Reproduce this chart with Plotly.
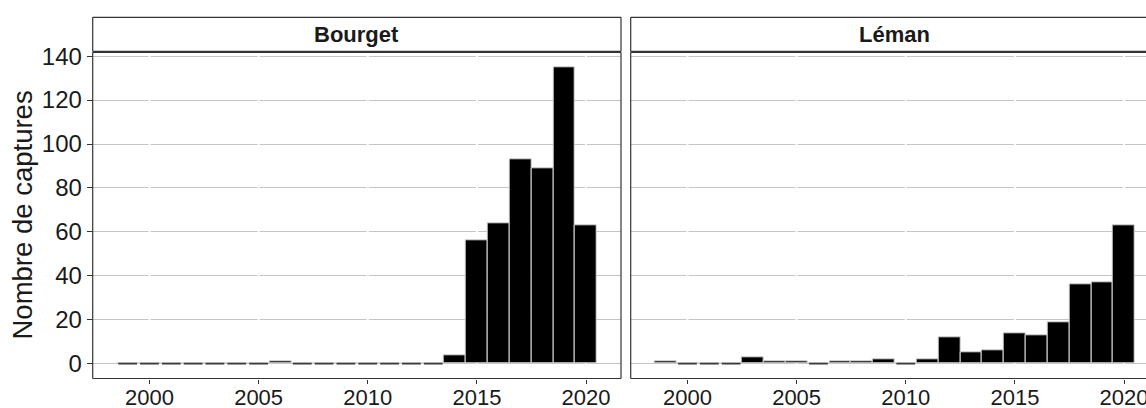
import plotly.graph_objects as go

years = list(range(1999, 2021))
bourget = [0, 0, 0, 0, 0, 0, 0, 1, 0, 0, 0, 0, 0, 0, 0, 4, 56, 64, 93, 89, 135, 63]
leman = [1, 0, 0, 0, 3, 1, 1, 0, 1, 1, 2, 0, 2, 12, 5, 6, 14, 13, 19, 36, 37, 63]
panels = ["Bourget", "Léman"]
x_ticks = [2000, 2005, 2010, 2015, 2020]
y_ticks = [0, 20, 40, 60, 80, 100, 120, 140]
y_title = "Nombre de captures"

W, H = 1146, 408
def px(x):
    return x / W
def py(y):
    return (H - y) / H

FONT = "Liberation Sans, Arial, sans-serif"
BORDER = "#333333"
GRID = "#c4c4c4"

fig = go.Figure()
series = [bourget, leman]
axes = [("x", "y"), ("x2", "y2")]
for vals, (xa, ya) in zip(series, axes):
    fig.add_trace(go.Bar(x=years, y=vals, width=1.0, xaxis=xa, yaxis=ya,
                         marker=dict(color="black", line=dict(color="#d8d8d8", width=1)),
                         showlegend=False, hoverinfo="x+y"))
    zx, zy = [], []
    for yr, v in zip(years, vals):
        if v == 0:
            zx += [yr - 0.43, yr + 0.43, None]
            zy += [0, 0, None]
    fig.add_trace(go.Scatter(x=zx, y=zy, xaxis=xa, yaxis=ya, mode="lines",
                             line=dict(color="#3a3a3a", width=1.6),
                             showlegend=False, hoverinfo="skip"))

x1_dom = [px(92.7), px(621.0)]
x2_dom = [px(630.7), 1.0]
y_dom = [py(378.5), py(52.3)]
xr = [1997.4, 2021.6]
ppy = (x1_dom[1] - x1_dom[0]) * W / (xr[1] - xr[0])
x2r = [1997.4, 1997.4 + (x2_dom[1] - x2_dom[0]) * W / ppy]
yr_ = [-6.75, 141.75]

tickfont_x = dict(family=FONT, size=22, color="#1a1a1a")
tickfont_y = dict(family=FONT, size=24, color="#1a1a1a")

fig.update_layout(
    width=W, height=H, margin=dict(l=0, r=0, t=0, b=0, autoexpand=False),
    paper_bgcolor="white", plot_bgcolor="white", bargap=0,
    xaxis=dict(domain=x1_dom, range=xr, tickvals=x_ticks, ticks="outside", ticklen=4,
               tickcolor=BORDER, tickwidth=1, tickfont=tickfont_x, showgrid=False,
               zeroline=False, showline=False, automargin=False, ticklabelstandoff=-5,
               ticklabeloverflow="allow"),
    xaxis2=dict(domain=x2_dom, range=x2r, tickvals=x_ticks, ticks="outside", ticklen=4,
                tickcolor=BORDER, tickwidth=1, tickfont=tickfont_x, showgrid=False,
                zeroline=False, showline=False, anchor="y2", automargin=False,
                ticklabelstandoff=-5, ticklabeloverflow="allow"),
    yaxis=dict(domain=y_dom, range=yr_, tickvals=y_ticks, ticks="outside", ticklen=5,
               tickcolor=BORDER, tickwidth=1, tickfont=tickfont_y, showgrid=True,
               gridcolor=GRID, gridwidth=1.2, zeroline=False, showline=False,
               automargin=False),
    yaxis2=dict(domain=y_dom, range=yr_, tickvals=y_ticks, showticklabels=False, ticks="",
                showgrid=True, gridcolor=GRID, gridwidth=1.2, zeroline=False,
                showline=False, anchor="x2", automargin=False),
)

shapes = []
annotations = []
for i, (name, xa, ya) in enumerate(zip(panels, ["x", "x2"], ["y", "y2"])):
    # white vertical grid lines over the horizontal ones
    for t in x_ticks:
        shapes.append(dict(type="line", xref=xa, yref=ya, x0=t, x1=t, y0=yr_[0], y1=yr_[1],
                           line=dict(color="white", width=2), layer="between"))
    dom = x1_dom if i == 0 else x2_dom
    sides = [(0, 0, 0, 1), (0, 1, 1, 1), (0, 0, 1, 0)]
    if i == 0:
        sides.append((1, 0, 1, 1))
    for x0, y0, x1, y1 in sides:
        shapes.append(dict(type="line", xref="paper", yref="paper",
                           x0=dom[0] + x0 * (dom[1] - dom[0]), x1=dom[0] + x1 * (dom[1] - dom[0]),
                           y0=y_dom[0] + y0 * (y_dom[1] - y_dom[0]),
                           y1=y_dom[0] + y1 * (y_dom[1] - y_dom[0]),
                           line=dict(color=BORDER, width=1.2), layer="above"))
    # strip
    s_bot, s_top = py(51.3), py(17.3)
    strip_sides = [(dom[0], s_bot, dom[0], s_top), (dom[0], s_top, dom[1], s_top),
                   (dom[0], s_bot, dom[1], s_bot)]
    if i == 0:
        strip_sides.append((dom[1], s_bot, dom[1], s_top))
    for x0, y0, x1, y1 in strip_sides:
        shapes.append(dict(type="line", xref="paper", yref="paper", x0=x0, y0=y0, x1=x1, y1=y1,
                           line=dict(color=BORDER, width=1.2)))
    cx = (x1_dom[0] + x1_dom[1]) / 2 if i == 0 else x2_dom[0] + (x1_dom[1] - x1_dom[0]) / 2
    annotations.append(dict(text=f"<b>{name}</b>", xref="paper", yref="paper", x=cx,
                            y=py(34.8), xanchor="center", yanchor="middle", showarrow=False,
                            font=dict(family=FONT, size=22, color="#1a1a1a")))

annotations.append(dict(text=y_title, xref="paper", yref="paper", x=px(21.5), y=py(215),
                        xanchor="center", yanchor="middle", textangle=-90, showarrow=False,
                        font=dict(family=FONT, size=27.5, color="#1a1a1a")))

fig.update_layout(shapes=shapes, annotations=annotations)
fig.write_html("out.html", config={"displayModeBar": False},
               post_script="document.body.style.margin='0';document.body.style.overflow='hidden';")
